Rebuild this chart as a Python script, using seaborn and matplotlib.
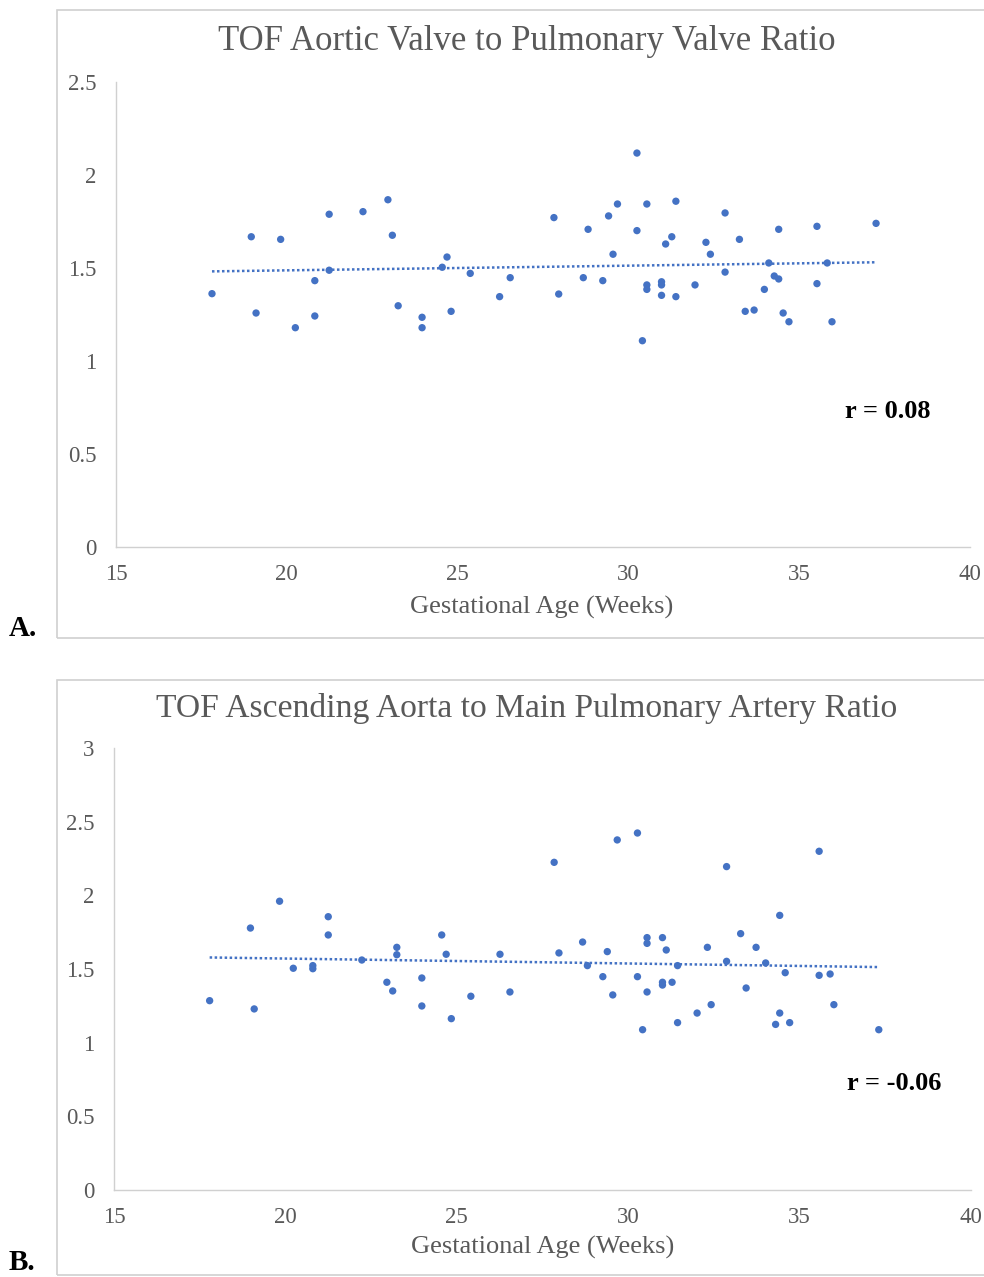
import numpy as np
import pandas as pd
import matplotlib.pyplot as plt
import seaborn as sns
from matplotlib.patches import Rectangle

# panel A - aortic valve / pulmonary valve ratio
age_a = [17.81, 18.96, 19.10, 19.82, 20.25, 20.82, 20.82, 21.24, 21.24, 22.23,
         22.96, 23.09, 23.26, 23.96, 23.96, 24.55, 24.69, 24.81, 25.37, 26.23,
         26.54, 27.82, 27.96, 28.68, 28.82, 29.25, 29.42, 29.55, 29.68, 30.25,
         30.25, 30.41, 30.54, 30.54, 30.54, 30.97, 30.97, 30.97, 31.09, 31.27,
         31.39, 31.39, 31.95, 32.27, 32.40, 32.83, 32.83, 33.25, 33.42, 33.68,
         33.98, 34.11, 34.27, 34.40, 34.40, 34.53, 34.70, 35.52, 35.52, 35.82,
         35.96, 37.25]
ratio_a = [1.362, 1.668, 1.258, 1.654, 1.179, 1.432, 1.242, 1.789, 1.488, 1.803,
           1.867, 1.676, 1.297, 1.235, 1.179, 1.504, 1.559, 1.267, 1.471, 1.346,
           1.448, 1.771, 1.360, 1.448, 1.708, 1.432, 1.780, 1.574, 1.844, 2.118,
           1.701, 1.109, 1.844, 1.409, 1.385, 1.426, 1.409, 1.353, 1.629, 1.668,
           1.859, 1.346, 1.409, 1.638, 1.574, 1.796, 1.478, 1.654, 1.267, 1.274,
           1.385, 1.527, 1.457, 1.441, 1.708, 1.258, 1.211, 1.724, 1.416, 1.527,
           1.211, 1.740]

# panel B - ascending aorta / main pulmonary artery ratio
age_b = [17.79, 18.98, 19.09, 19.83, 20.23, 20.80, 20.80, 21.25, 21.25, 22.23,
         22.96, 23.13, 23.25, 23.25, 23.98, 23.98, 24.56, 24.69, 24.84, 25.41,
         26.26, 26.55, 27.84, 27.98, 28.67, 28.81, 29.26, 29.39, 29.55, 29.68,
         30.27, 30.27, 30.42, 30.55, 30.55, 30.55, 31.00, 31.11, 31.00, 31.00,
         31.28, 31.44, 31.44, 32.01, 32.31, 32.42, 32.87, 32.87, 33.28, 33.44,
         33.73, 34.01, 34.30, 34.42, 34.42, 34.58, 34.71, 35.57, 35.57, 35.89,
         36.00, 37.31]
ratio_b = [1.285, 1.778, 1.229, 1.960, 1.505, 1.523, 1.502, 1.855, 1.731, 1.561,
           1.410, 1.351, 1.647, 1.597, 1.439, 1.249, 1.731, 1.600, 1.163, 1.315,
           1.600, 1.344, 2.224, 1.609, 1.683, 1.523, 1.448, 1.618, 1.324, 2.376,
           2.423, 1.448, 1.088, 1.713, 1.674, 1.344, 1.713, 1.629, 1.410, 1.391,
           1.410, 1.523, 1.136, 1.201, 1.647, 1.258, 2.195, 1.552, 1.740, 1.371,
           1.647, 1.541, 1.124, 1.864, 1.201, 1.475, 1.136, 2.299, 1.457, 1.466,
           1.258, 1.088]

titles = ["TOF Aortic Valve to Pulmonary Valve Ratio",
          "TOF Ascending Aorta to Main Pulmonary Artery Ratio"]
r_labels = ["r = 0.08", "r = -0.06"]
panel_labels = ["A.", "B."]
x_ticks = [15, 20, 25, 30, 35, 40]
y_ticks_a = [0, 0.5, 1, 1.5, 2, 2.5]
y_ticks_b = [0, 0.5, 1, 1.5, 2, 2.5, 3]

sns.set_style("white")
plt.rcParams['font.family'] = ['Liberation Serif', 'DejaVu Serif']

blue = "#4472C4"
grey_txt = "#595959"

W, H = 984, 1277
fig = plt.figure(figsize=(W / 100, H / 100), dpi=100)

def fx(px):
    return px / W

def fy(py):
    return 1 - py / H

# chart area borders
fig.patches.append(Rectangle((fx(57), fy(638)), fx(990 - 57), fy(10) - fy(638),
                             transform=fig.transFigure, fill=False,
                             edgecolor="#d0d0d0", linewidth=1.2))
fig.patches.append(Rectangle((fx(57), fy(1275)), fx(990 - 57), fy(680) - fy(1275),
                             transform=fig.transFigure, fill=False,
                             edgecolor="#d0d0d0", linewidth=1.2))

ax_a = fig.add_axes([fx(116), fy(547), fx(970 - 116), fy(82) - fy(547)])
ax_b = fig.add_axes([fx(114), fy(1190), fx(971 - 114), fy(748) - fy(1190)])

panels = [
    (ax_a, age_a, ratio_a, y_ticks_a, ["0", "0.5", "1", "1.5", "2", "2.5"]),
    (ax_b, age_b, ratio_b, y_ticks_b, ["0", "0.5", "1", "1.5", "2", "2.5", "3"]),
]

for ax, xs, ys, yt, ytl in panels:
    df = pd.DataFrame({"age": xs, "ratio": ys})
    sns.regplot(data=df, x="age", y="ratio", ax=ax, scatter=False, ci=None,
                color=blue, line_kws={"linestyle": (0, (1, 1)), "linewidth": 1.8})
    sns.scatterplot(data=df, x="age", y="ratio", ax=ax, color=blue, s=28,
                    edgecolor="none", zorder=3)
    ax.set_xlim(15, 40)
    ax.set_ylim(yt[0], yt[-1])
    ax.set_xticks(x_ticks)
    ax.set_xticklabels([str(t) for t in x_ticks])
    ax.set_yticks(yt)
    ax.set_yticklabels(ytl)
    ax.set_xlabel("")
    ax.set_ylabel("")
    ax.tick_params(axis="both", length=0, labelsize=16.5, colors=grey_txt)
    ax.tick_params(axis="x", pad=12)
    ax.tick_params(axis="y", pad=14)
    for side in ["top", "right"]:
        ax.spines[side].set_visible(False)
    for side in ["left", "bottom"]:
        ax.spines[side].set_color("#d0d0d0")
        ax.spines[side].set_linewidth(1.0)

# titles, axis labels, r values, panel letters
fig.text(fx(527), fy(42), titles[0], ha="center", va="center", fontsize=25, color=grey_txt)
fig.text(fx(527), fy(709), titles[1], ha="center", va="center", fontsize=24.2, color=grey_txt)
fig.text(fx(542), fy(607), "Gestational Age (Weeks)", ha="center", va="center",
         fontsize=19, color=grey_txt)
fig.text(fx(543), fy(1247), "Gestational Age (Weeks)", ha="center", va="center",
         fontsize=19, color=grey_txt)
fig.text(fx(845), fy(412), r_labels[0], ha="left", va="center", fontsize=19,
         fontweight="bold", color="black")
fig.text(fx(847), fy(1083), r_labels[1], ha="left", va="center", fontsize=19,
         fontweight="bold", color="black")
fig.text(fx(9), fy(628), panel_labels[0], ha="left", va="center", fontsize=21,
         fontweight="bold", color="black")
fig.text(fx(9), fy(1262), panel_labels[1], ha="left", va="center", fontsize=21,
         fontweight="bold", color="black")

fig.savefig("out.png", dpi=100)
